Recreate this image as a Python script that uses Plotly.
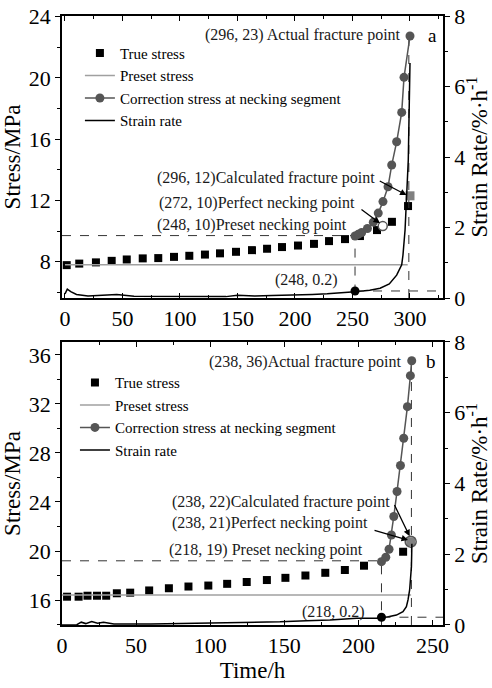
import plotly.graph_objects as go
from plotly.subplots import make_subplots

FONT = "Liberation Serif"

# ---------------- Panel a data ----------------
a_true_t = [1.5, 12.4, 26.9, 40.6, 53.7, 67.6, 81.1, 94.8, 108.1, 121.7, 134.8, 148.7,
            162.6, 175.7, 188.7, 202.6, 216.5, 229.6, 243.5, 256.5, 271.3, 284.3, 298.3]
a_true_s = [7.77, 7.87, 7.95, 8.05, 8.14, 8.21, 8.23, 8.31, 8.38, 8.46, 8.54, 8.64,
            8.75, 8.84, 8.95, 9.05, 9.16, 9.34, 9.47, 9.67, 10.06, 10.6, 11.63]
a_preset_t = [0, 298]
a_preset_s = [7.8, 7.8]
a_corr_t = [252.2, 255.0, 258.0, 263.0, 268.1, 272.4, 276.5, 280.9, 284.1, 288.4, 292.8, 294.8, 300.0]
a_corr_s = [9.67, 9.78, 9.9, 10.16, 10.58, 11.17, 11.92, 12.89, 14.31, 15.83, 17.75, 20.04, 22.74]
a_rate_t = [0, 2, 5, 10, 20, 35, 45, 60, 100, 140, 150, 165, 180, 200, 215, 228, 240, 252.2,
            265, 274, 282, 288.4, 292.8, 293.9, 295.7, 297.1, 298.5, 300]
a_rate_v = [0.12, 0.25, 0.18, 0.1, 0.06, 0.08, 0.1, 0.05, 0.04, 0.04, 0.08, 0.06, 0.07, 0.08,
            0.1, 0.12, 0.14, 0.18, 0.22, 0.28, 0.4, 0.65, 0.94, 1.22, 1.93, 2.78, 3.91, 6.67]
a_neck_t, a_neck_s, a_neck_rate = 252.2, 9.7, 0.2
a_frac_t, a_frac_s = 299.0, 22.74
a_calc_t, a_calc_s = 300.0, 12.3
a_perf_t, a_perf_s = 276.3, 10.32
a_xrange = [-2.6, 328.7]
a_yrange = [5.62, 24.05]

# ---------------- Panel b data ----------------
b_true_t = [3.4, 11.2, 17.2, 23.6, 29.8, 37.0, 46.0, 58.8, 72.1, 85.3, 98.7, 111.4, 124.6,
            138.2, 150.7, 164.2, 177.6, 190.8, 203.7, 230.1]
b_true_s = [16.27, 16.27, 16.35, 16.35, 16.35, 16.55, 16.6, 16.78, 16.96, 17.1, 17.18, 17.32,
            17.47, 17.63, 17.81, 18.0, 18.22, 18.45, 18.8, 19.94]
b_preset_t = [0, 235.5]
b_preset_s = [16.41, 16.41]
b_corr_t = [215.5, 218.4, 220.6, 222.2, 223.8, 226.0, 228.3, 230.5, 233.0, 235.0, 235.9]
b_corr_s = [19.13, 19.49, 20.14, 21.31, 22.82, 24.86, 26.98, 29.2, 31.78, 34.31, 35.53]
b_rate_t = [0, 10, 13, 16, 20, 24, 28, 35, 60, 100, 130, 147, 165, 180.7, 198.7, 215.5, 225.6,
            230, 232.3, 233.4, 234.5, 235.2, 235.7, 235.9, 236.0]
b_rate_v = [0.0, 0.01, 0.08, 0.04, 0.1, 0.05, 0.08, 0.03, 0.03, 0.05, 0.07, 0.09, 0.12, 0.14,
            0.19, 0.19, 0.28, 0.38, 0.52, 0.71, 0.99, 1.27, 1.65, 2.04, 2.3]
b_neck_t, b_neck_s, b_neck_rate = 215.5, 19.2, 0.22
b_frac_t, b_frac_s = 235.7, 35.53
b_calc_t, b_calc_s = 235.2, 20.76
b_xrange = [0, 257]
b_yrange = [13.96, 37.06]

fig = make_subplots(rows=2, cols=1, specs=[[{"secondary_y": True}], [{"secondary_y": True}]])

GRAY = "#a0a0a0"
DARK = "#555555"
DASH = "#333333"


def add_panel(row, lg, true_t, true_s, preset_t, preset_s, corr_t, corr_s, rate_t, rate_v,
              neck_t, neck_s, neck_rate, frac_t, frac_s, xr, yr):
    fig.add_trace(go.Scatter(x=true_t, y=true_s, mode="markers", name="True stress",
                             marker=dict(symbol="square", size=8, color="black"), legend=lg),
                  row=row, col=1, secondary_y=False)
    fig.add_trace(go.Scatter(x=preset_t, y=preset_s, mode="lines", name="Preset stress",
                             line=dict(color=GRAY, width=1.5), legend=lg),
                  row=row, col=1, secondary_y=False)
    # dashed guides
    fig.add_trace(go.Scatter(x=[xr[0], neck_t, neck_t], y=[neck_s, neck_s, yr[0]], mode="lines",
                             line=dict(color=DASH, width=1, dash="dash"), showlegend=False,
                             hoverinfo="skip"), row=row, col=1, secondary_y=False)
    fig.add_trace(go.Scatter(x=[frac_t, frac_t], y=[yr[0], frac_s], mode="lines",
                             line=dict(color=DASH, width=1, dash="dash"), showlegend=False,
                             hoverinfo="skip"), row=row, col=1, secondary_y=False)
    fig.add_trace(go.Scatter(x=corr_t, y=corr_s, mode="lines+markers",
                             name="Correction stress at necking segment",
                             line=dict(color=DARK, width=1.5),
                             marker=dict(symbol="circle", size=9, color=DARK), legend=lg),
                  row=row, col=1, secondary_y=False)
    fig.add_trace(go.Scatter(x=rate_t, y=rate_v, mode="lines", name="Strain rate",
                             line=dict(color="black", width=1.5), legend=lg),
                  row=row, col=1, secondary_y=True)
    fig.add_trace(go.Scatter(x=[neck_t, xr[1]], y=[neck_rate, neck_rate], mode="lines",
                             line=dict(color=DASH, width=1, dash="dash"), showlegend=False,
                             hoverinfo="skip"), row=row, col=1, secondary_y=True)
    fig.add_trace(go.Scatter(x=[neck_t], y=[neck_rate], mode="markers", showlegend=False,
                             marker=dict(symbol="circle", size=9, color="black")),
                  row=row, col=1, secondary_y=True)


add_panel(1, "legend", a_true_t, a_true_s, a_preset_t, a_preset_s, a_corr_t, a_corr_s,
          a_rate_t, a_rate_v, a_neck_t, a_neck_s, a_neck_rate, a_frac_t, a_frac_s,
          a_xrange, a_yrange)
add_panel(2, "legend2", b_true_t, b_true_s, b_preset_t, b_preset_s, b_corr_t, b_corr_s,
          b_rate_t, b_rate_v, b_neck_t, b_neck_s, b_neck_rate, b_frac_t, b_frac_s,
          b_xrange, b_yrange)

# special points
fig.add_trace(go.Scatter(x=[a_calc_t], y=[a_calc_s], mode="markers", showlegend=False,
                         marker=dict(symbol="square", size=9, color="#808080")),
              row=1, col=1, secondary_y=False)
fig.add_trace(go.Scatter(x=[a_perf_t], y=[a_perf_s], mode="markers", showlegend=False,
                         marker=dict(symbol="circle", size=9, color="white",
                                     line=dict(color=DARK, width=1.5))),
              row=1, col=1, secondary_y=False)
fig.add_trace(go.Scatter(x=[b_calc_t], y=[b_calc_s], mode="markers", showlegend=False,
                         marker=dict(symbol="square", size=9, color="#808080")),
              row=2, col=1, secondary_y=False)
fig.add_trace(go.Scatter(x=[b_calc_t], y=[b_calc_s], mode="markers", showlegend=False,
                         marker=dict(symbol="circle-open", size=11, color=DARK,
                                     line=dict(width=1.5))),
              row=2, col=1, secondary_y=False)

tickfont = dict(family=FONT, size=22, color="black")
titlefont = dict(family=FONT, size=23, color="black")


def xax(rng, show_title):
    d = dict(range=rng, domain=[0, 1], dtick=50, tick0=0, ticks="inside", ticklen=5,
             tickwidth=1.2, tickcolor="black", showline=True, linecolor="black", linewidth=1.5,
             mirror="ticks", showgrid=False, zeroline=False, tickfont=tickfont,
             automargin=False,
             minor=dict(dtick=25, ticks="inside", ticklen=3, tickcolor="black"))
    if show_title:
        d["title"] = dict(text="Time/h", font=titlefont, standoff=2)
    return d


def yax_left(rng, dom):
    return dict(range=rng, domain=dom, dtick=4, tick0=0, ticks="outside", ticklen=5,
                tickwidth=1.2, tickcolor="black", showline=True, linecolor="black",
                linewidth=1.5, showgrid=False, zeroline=False, tickfont=tickfont,
                automargin=False,
                minor=dict(dtick=2, ticks="outside", ticklen=3, tickcolor="black"),
                title=dict(text="Stress/MPa", font=titlefont, standoff=2))


def yax_right(dom):
    return dict(range=[0, 8], dtick=2, tick0=0, ticks="outside", ticklen=5, tickwidth=1.2,
                tickcolor="black", showline=True, linecolor="black", linewidth=1.5,
                showgrid=False, zeroline=False, tickfont=tickfont, automargin=False,
                minor=dict(dtick=1, ticks="outside", ticklen=3, tickcolor="black"),
                title=dict(text="Strain Rate/%·h<sup>-1</sup>", font=titlefont, standoff=2))


top_dom = [0.5369, 1.0]
bot_dom = [0.0, 0.4647]

fig.update_layout(
    width=492, height=688,
    margin=dict(l=62, r=49, t=16, b=63, autoexpand=False),
    plot_bgcolor="white", paper_bgcolor="white",
    font=dict(family=FONT, color="black"),
    xaxis=xax(a_xrange, False),
    xaxis2=xax(b_xrange, True),
    yaxis=yax_left(a_yrange, top_dom),
    yaxis2=yax_right(top_dom),
    yaxis3=yax_left(b_yrange, bot_dom),
    yaxis4=yax_right(bot_dom),
    legend=dict(x=0.047, y=0.966, xanchor="left", yanchor="top", bgcolor="rgba(0,0,0,0)",
                font=dict(family=FONT, size=15), tracegroupgap=0),
    legend2=dict(x=0.034, y=0.425, xanchor="left", yanchor="top", bgcolor="rgba(0,0,0,0)",
                 font=dict(family=FONT, size=15), tracegroupgap=0),
)
fig.update_layout(yaxis2=dict(anchor="x", overlaying="y", side="right"),
                  yaxis4=dict(anchor="x2", overlaying="y3", side="right"))

ann_font = dict(family=FONT, size=16, color="#1a1a1a")
anns = [
    # panel a
    dict(x=293.9, y=22.8, xref="x", yref="y", text="(296, 23) Actual fracture point",
         xanchor="right", showarrow=False),
    dict(x=320, y=22.8, xref="x", yref="y", text="a", xanchor="center", showarrow=False,
         font=dict(family=FONT, size=19, color="black")),
    dict(x=78.3, y=13.44, xref="x", yref="y", text="(296, 12)Calculated fracture point",
         xanchor="left", showarrow=False),
    dict(x=79.7, y=11.82, xref="x", yref="y", text="(272, 10)Perfect necking point",
         xanchor="left", showarrow=False),
    dict(x=78.3, y=10.39, xref="x", yref="y", text="(248, 10)Preset necking point",
         xanchor="left", showarrow=False),
    dict(x=210, y=6.79, xref="x", yref="y", text="(248, 0.2)", xanchor="center",
         showarrow=False),
    # panel b
    dict(x=230, y=35.45, xref="x2", yref="y3", text="(238, 36)Actual fracture point",
         xanchor="right", showarrow=False),
    dict(x=249.2, y=35.45, xref="x2", yref="y3", text="b", xanchor="center", showarrow=False,
         font=dict(family=FONT, size=19, color="black")),
    dict(x=72.9, y=24.0, xref="x2", yref="y3", text="(238, 22)Calculated fracture point",
         xanchor="left", showarrow=False),
    dict(x=72.9, y=22.29, xref="x2", yref="y3", text="(238, 21)Perfect necking point",
         xanchor="left", showarrow=False),
    dict(x=70.7, y=20.08, xref="x2", yref="y3", text="(218, 19) Preset necking point",
         xanchor="left", showarrow=False),
    dict(x=182.9, y=15.04, xref="x2", yref="y3", text="(218, 0.2)", xanchor="center",
         showarrow=False),
]
for a in anns:
    a.setdefault("font", ann_font)
    fig.add_annotation(**a)

arrows = [
    dict(x=297, y=12.35, ax=272.4, ay=13.32, xref="x", yref="y", axref="x", ayref="y"),
    dict(x=273.9, y=10.5, ax=256.5, ay=11.48, xref="x", yref="y", axref="x", ayref="y"),
    dict(x=234.5, y=21.2, ax=223.8, ay=23.87, xref="x2", yref="y3", axref="x2", ayref="y3"),
    dict(x=233.4, y=20.9, ax=209.8, ay=21.71, xref="x2", yref="y3", axref="x2", ayref="y3"),
]
for a in arrows:
    fig.add_annotation(text="", showarrow=True, arrowhead=2, arrowsize=1, arrowwidth=1.3,
                       arrowcolor="black", **a)

fig.write_html("out.html")
